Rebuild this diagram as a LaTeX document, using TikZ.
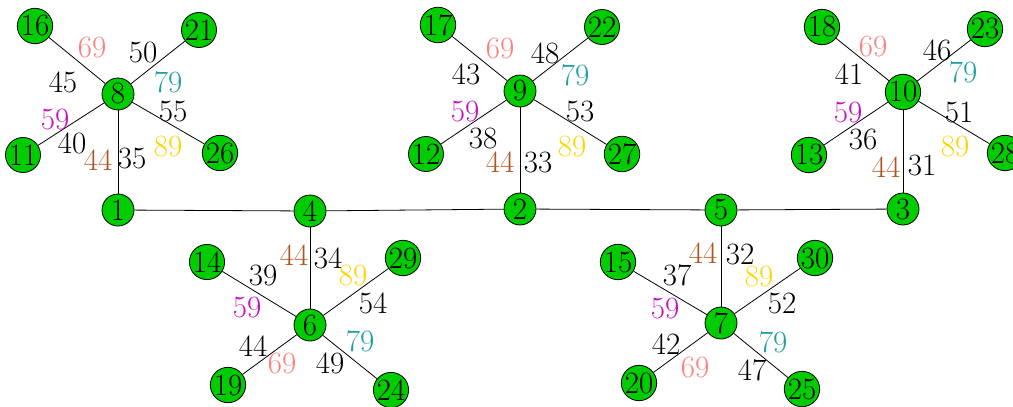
\documentclass[tikz,border=0pt]{standalone}
\usepackage{fontspec}
\definecolor{ngreen}{RGB}{0,204,0}
\definecolor{cpink}{RGB}{255,128,128}
\definecolor{cteal}{RGB}{32,160,160}
\definecolor{cmag}{RGB}{192,16,192}
\definecolor{cgold}{RGB}{255,212,0}
\definecolor{cbrown}{RGB}{176,84,32}
\tikzset{
  vtx/.style={circle,draw=black,line width=0.8pt,fill=ngreen,minimum size=32pt,inner sep=0pt,font=\fontsize{31}{31}\selectfont},
  lab/.style={inner sep=0pt,font=\fontsize{31}{31}\selectfont},
  edge/.style={line width=0.8pt,black}
}
\begin{document}
\begin{tikzpicture}[x=1pt,y=-1pt]
\useasboundingbox (0,0) rectangle (1013,407);
% main path
\node[vtx] (n1) at (118,210) {1};
\node[vtx] (n4) at (310,211) {4};
\node[vtx] (n2) at (520,209) {2};
\node[vtx] (n5) at (721,210) {5};
\node[vtx] (n3) at (903,209) {3};
% star 8
\node[vtx] (n8) at (118,94) {8};
\node[vtx] (n16) at (35,26) {16};
\node[vtx] (n21) at (199,30) {21};
\node[vtx] (n11) at (23,155) {11};
\node[vtx] (n26) at (220,153) {26};
% star 9
\node[vtx] (n9) at (520,91) {9};
\node[vtx] (n17) at (438,25) {17};
\node[vtx] (n22) at (602,27) {22};
\node[vtx] (n12) at (426,154) {12};
\node[vtx] (n27) at (622,154) {27};
% star 10
\node[vtx] (n10) at (903,92) {10};
\node[vtx] (n18) at (822,27) {18};
\node[vtx] (n23) at (985,29) {23};
\node[vtx] (n13) at (809,155) {13};
\node[vtx] (n28) at (1005,153) {28};
% star 6
\node[vtx] (n6) at (310,325) {6};
\node[vtx] (n14) at (207,262) {14};
\node[vtx] (n29) at (403,258) {29};
\node[vtx] (n19) at (228,385) {19};
\node[vtx] (n24) at (391,390) {24};
% star 7
\node[vtx] (n7) at (721,323) {7};
\node[vtx] (n15) at (618,262) {15};
\node[vtx] (n30) at (815,258) {30};
\node[vtx] (n20) at (639,383) {20};
\node[vtx] (n25) at (802,389) {25};
% edges
\draw[edge] (n1) -- (n4) -- (n2) -- (n5) -- (n3);
\draw[edge] (n8) -- (n1);
\draw[edge] (n8) -- (n16); \draw[edge] (n8) -- (n21);
\draw[edge] (n8) -- (n11); \draw[edge] (n8) -- (n26);
\draw[edge] (n9) -- (n2);
\draw[edge] (n9) -- (n17); \draw[edge] (n9) -- (n22);
\draw[edge] (n9) -- (n12); \draw[edge] (n9) -- (n27);
\draw[edge] (n10) -- (n3);
\draw[edge] (n10) -- (n18); \draw[edge] (n10) -- (n23);
\draw[edge] (n10) -- (n13); \draw[edge] (n10) -- (n28);
\draw[edge] (n4) -- (n6);
\draw[edge] (n6) -- (n14); \draw[edge] (n6) -- (n29);
\draw[edge] (n6) -- (n19); \draw[edge] (n6) -- (n24);
\draw[edge] (n5) -- (n7);
\draw[edge] (n7) -- (n15); \draw[edge] (n7) -- (n30);
\draw[edge] (n7) -- (n20); \draw[edge] (n7) -- (n25);
% labels star 8
\node[lab,text=cpink] (a1) at (92,48) {69};
\node[lab] (a2) at (143,53) {50};
\node[lab] (a3) at (63,82) {45};
\node[lab,text=cteal] (a4) at (168,82) {79};
\node[lab] (a5) at (173,112) {55};
\node[lab,text=cmag] (a6) at (55,120) {59};
\node[lab] (a7) at (72,143) {40};
\node[lab,text=cgold] (a8) at (168,147) {89};
\node[lab,text=cbrown] (a9) at (98,160) {44};
\node[lab] (a10) at (132,159) {35};
% labels star 9
\node[lab,text=cpink] (b1) at (500,49) {69};
\node[lab] (b2) at (545,53) {48};
\node[lab] (b3) at (466,74) {43};
\node[lab,text=cteal] (b4) at (575,75) {79};
\node[lab] (b5) at (580,112) {53};
\node[lab,text=cmag] (b6) at (465,112) {59};
\node[lab] (b7) at (483,139) {38};
\node[lab,text=cgold] (b8) at (572,147) {89};
\node[lab,text=cbrown] (b9) at (500,162) {44};
\node[lab] (b10) at (538,163) {33};
% labels star 10
\node[lab,text=cpink] (c1) at (873,47) {69};
\node[lab] (c2) at (937,50) {46};
\node[lab] (c3) at (849,74) {41};
\node[lab,text=cteal] (c4) at (963,72) {79};
\node[lab] (c5) at (959,113) {51};
\node[lab,text=cmag] (c6) at (848,113) {59};
\node[lab] (c7) at (863,140) {36};
\node[lab,text=cgold] (c8) at (955,147) {89};
\node[lab,text=cbrown] (c9) at (886,167) {44};
\node[lab] (c10) at (922,165) {31};
% labels star 6
\node[lab,text=cbrown] (d1) at (294,255) {44};
\node[lab] (d2) at (328,258) {34};
\node[lab] (d3) at (263,275) {39};
\node[lab,text=cgold] (d4) at (353,275) {89};
\node[lab,text=cmag] (d5) at (247,307) {59};
\node[lab] (d6) at (373,303) {54};
\node[lab] (d7) at (253,346) {44};
\node[lab,text=cteal] (d8) at (360,341) {79};
\node[lab,text=cpink] (d9) at (282,363) {69};
\node[lab] (d10) at (330,363) {49};
% labels star 7
\node[lab,text=cbrown] (e1) at (703,253) {44};
\node[lab] (e2) at (740,254) {32};
\node[lab] (e3) at (677,275) {37};
\node[lab,text=cgold] (e4) at (759,276) {89};
\node[lab,text=cmag] (e5) at (665,308) {59};
\node[lab] (e6) at (782,303) {52};
\node[lab] (e7) at (666,344) {42};
\node[lab,text=cteal] (e8) at (773,342) {79};
\node[lab,text=cpink] (e9) at (695,367) {69};
\node[lab] (e10) at (752,370) {47};
\end{tikzpicture}
\end{document}
